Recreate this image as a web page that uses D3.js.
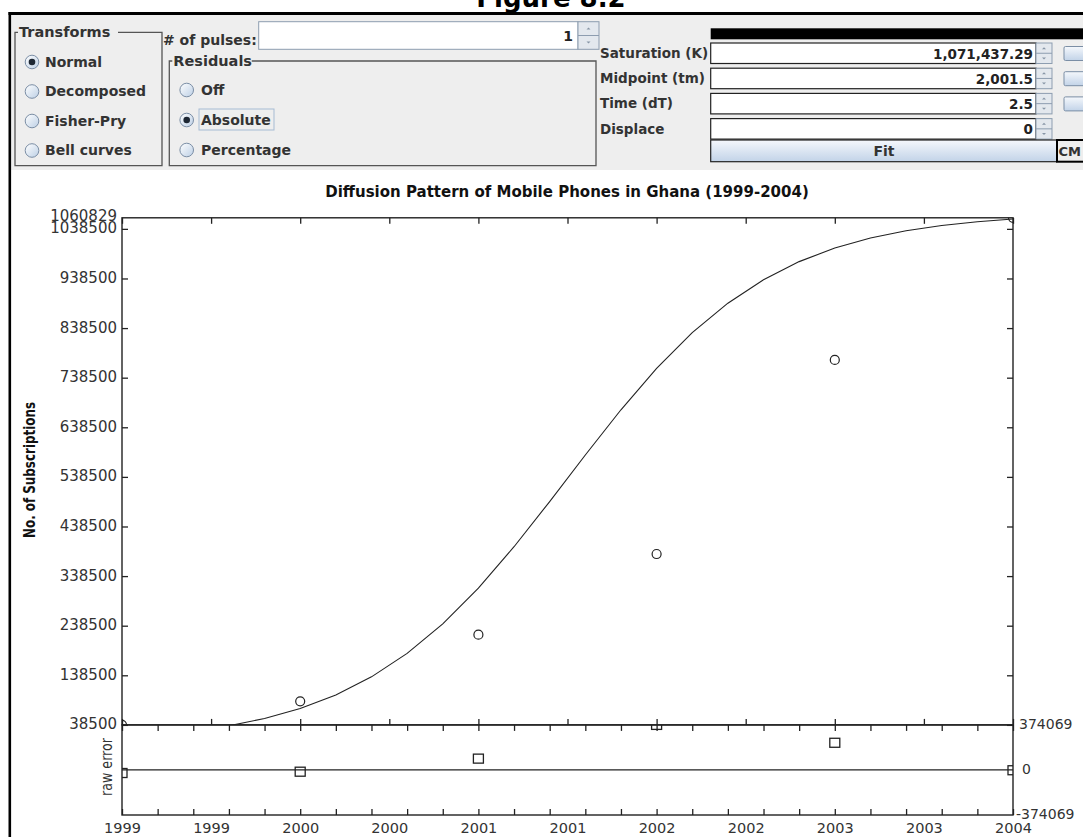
<!DOCTYPE html>
<html>
<head>
<meta charset="utf-8">
<script src="https://cdn.jsdelivr.net/npm/d3@7"></script>
<style>
body{margin:0;background:#fff;}
svg{display:block;}
.ui{font-family:"DejaVu Sans",sans-serif;font-weight:bold;font-size:14px;fill:#333;}
.tick text{font-family:"DejaVu Sans",sans-serif;font-size:15px;fill:#333;}
</style>
</head>
<body>
<script>
// observed data
const years = [1999, 2000, 2001, 2002, 2003, 2004];
const subscriptions = [38500, 86100, 220400, 383000, 774200, 1060829];
const rawErrors = [-25400, -14500, 94000, 374069, 225700, -2500];

// fitted curve
const curveYears = [1999, 1999.2, 1999.4, 1999.6, 1999.8, 2000, 2000.2, 2000.4, 2000.6, 2000.8, 2001, 2001.2, 2001.4, 2001.6, 2001.8, 2002, 2002.2, 2002.4, 2002.6, 2002.8, 2003, 2003.2, 2003.4, 2003.6, 2003.8, 2004];
const curveValues = [13000, 18500, 26000, 36700, 51400, 71600, 99000, 135400, 182700, 242300, 314400, 397700, 488800, 582700, 673800, 757100, 829200, 888700, 936100, 972500, 999900, 1020000, 1034800, 1045400, 1053000, 1058400];

// ticks
const yTicks = [38500, 138500, 238500, 338500, 438500, 538500, 638500, 738500, 838500, 938500, 1038500];
const yTop = 1060829;
const xMajor = [1999, 1999.5, 2000, 2000.5, 2001, 2001.5, 2002, 2002.5, 2003, 2003.5, 2004];
const xLabels = ["1999", "1999", "2000", "2000", "2001", "2001", "2002", "2002", "2003", "2003", "2004"];
const xMinor = [1999, 1999.2, 1999.4, 1999.6, 1999.8, 2000, 2000.2, 2000.4, 2000.6, 2000.8, 2001, 2001.2, 2001.4, 2001.6, 2001.8, 2002, 2002.2, 2002.4, 2002.6, 2002.8, 2003, 2003.2, 2003.4, 2003.6, 2003.8, 2004];
const resMax = 374069;

// control panel
const transformOptions = ["Normal", "Decomposed", "Fisher-Pry", "Bell curves"];
const residualOptions = ["Off", "Absolute", "Percentage"];
const paramLabels = ["Saturation (K)", "Midpoint (tm)", "Time (dT)", "Displace"];
const paramValues = ["1,071,437.29", "2,001.5", "2.5", "0"];
const pulses = "1";

const width = 1083;
const height = 837;
const L = 122, R = 1013, T = 217.8, M = 724.9, B = 815;

const svg = d3.select('body')
    .append('svg')
    .attr('width', width)
    .attr('height', height)

const defs = svg.append('defs')
const g1 = defs.append('linearGradient').attr('id', 'btnGrad').attr('x1', 0).attr('y1', 0).attr('x2', 0).attr('y2', 1)
g1.append('stop').attr('offset', '0%').attr('stop-color', '#f5f8fc')
g1.append('stop').attr('offset', '100%').attr('stop-color', '#c2d3e8')
const g2 = defs.append('linearGradient').attr('id', 'radioGrad').attr('x1', 0).attr('y1', 0).attr('x2', 1).attr('y2', 1)
g2.append('stop').attr('offset', '0%').attr('stop-color', '#ffffff')
g2.append('stop').attr('offset', '100%').attr('stop-color', '#bccfe5')
defs.append('clipPath').attr('id', 'clipTop').append('rect')
    .attr('x', L).attr('y', T).attr('width', R - L).attr('height', M - T)
defs.append('clipPath').attr('id', 'clipRes').append('rect')
    .attr('x', L).attr('y', M).attr('width', R - L).attr('height', B - M)

svg.append('rect').attr('width', width).attr('height', height).attr('fill', '#fff')

// figure caption, cut at the top
svg.append('text')
    .attr('x', 551).attr('y', 7)
    .attr('text-anchor', 'middle')
    .attr('font-family', 'DejaVu Sans, sans-serif')
    .attr('font-weight', 'bold')
    .attr('font-size', 26)
    .text('Figure 8.2')

// ---------- control panel ----------
svg.append('rect').attr('x', 11).attr('y', 15).attr('width', width - 11).attr('height', 155).attr('fill', '#eeeeee')
svg.append('rect').attr('x', 8.5).attr('y', 12).attr('width', width - 8.5).attr('height', 3).attr('fill', '#000')
svg.append('rect').attr('x', 8.5).attr('y', 12).attr('width', 2.6).attr('height', height - 12).attr('fill', '#000')

function groupBox(x0, y0, x1, y1, title, gapEnd) {
    svg.append('path')
        .attr('d', `M${x0 + 3},${y0}H${x0}V${y1}H${x1}V${y0}H${gapEnd}`)
        .attr('fill', 'none').attr('stroke', '#555').attr('stroke-width', 1.3)
    svg.append('text').attr('class', 'ui').attr('x', x0 + 4).attr('y', y0 + 5).style('font-size', '14.5px').text(title)
}
groupBox(15, 32.3, 162, 165.7, 'Transforms', 118)
groupBox(169.3, 61, 596, 165.7, 'Residuals', 251.7)

function radio(cx, cy, on) {
    svg.append('circle').attr('cx', cx).attr('cy', cy).attr('r', 6.8)
        .attr('fill', 'url(#radioGrad)').attr('stroke', '#7b8ea5').attr('stroke-width', 1)
    if (on) {
        svg.append('circle').attr('cx', cx).attr('cy', cy).attr('r', 3.3).attr('fill', '#1d2733')
    }
}

svg.selectAll('.tr')
    .data(transformOptions)
    .enter()
    .append('text')
    .attr('class', 'ui tr')
    .attr('x', 45)
    .attr('y', (d, i) => 66.5 + i * 29.5)
    .text(d => d)
transformOptions.forEach((d, i) => radio(32, 62 + i * 29.5, i == 0))

svg.append('rect').attr('x', 199).attr('y', 109).attr('width', 75).attr('height', 21)
    .attr('fill', 'none').attr('stroke', '#a6bbd3')
svg.selectAll('.rs')
    .data(residualOptions)
    .enter()
    .append('text')
    .attr('class', 'ui rs')
    .attr('x', 201)
    .attr('y', (d, i) => 95 + i * 30)
    .text(d => d)
residualOptions.forEach((d, i) => radio(186.7, 90 + i * 30, i == 1))

function spinner(x0, y0, w, h) {
    svg.append('rect').attr('x', x0).attr('y', y0).attr('width', w).attr('height', h)
        .attr('fill', '#e3e8ee').attr('stroke', '#8d9db0')
    svg.append('line').attr('x1', x0).attr('x2', x0 + w).attr('y1', y0 + h / 2).attr('y2', y0 + h / 2).attr('stroke', '#8d9db0')
    const cx = x0 + w / 2
    svg.append('path').attr('d', `M${cx - 2},${y0 + h / 4 + 1}L${cx + 2},${y0 + h / 4 + 1}L${cx},${y0 + h / 4 - 1}Z`).attr('fill', '#8795a6')
    svg.append('path').attr('d', `M${cx - 2},${y0 + 3 * h / 4 - 1}L${cx + 2},${y0 + 3 * h / 4 - 1}L${cx},${y0 + 3 * h / 4 + 1}Z`).attr('fill', '#8795a6')
}

svg.append('text').attr('class', 'ui').attr('x', 163).attr('y', 44.5).text('# of pulses:')
svg.append('rect').attr('x', 258.7).attr('y', 21.7).attr('width', 319.3).attr('height', 27.6)
    .attr('fill', '#fff').attr('stroke', '#8d9db0')
svg.append('text').attr('class', 'ui').attr('x', 573).attr('y', 41).attr('text-anchor', 'end').style('fill', '#222').text(pulses)
spinner(578, 21.7, 21, 27.6)

svg.append('rect').attr('x', 710.7).attr('y', 28.3).attr('width', width - 710.7).attr('height', 11).attr('fill', '#000')

paramLabels.forEach((d, i) => {
    const top = 43 + i * 25.2
    svg.append('text').attr('class', 'ui').attr('x', 600).attr('y', top + 15).style('font-size', '13.5px').text(d)
    svg.append('rect').attr('x', 710.7).attr('y', top).attr('width', 325.3).attr('height', 20.5)
        .attr('fill', '#fff').attr('stroke', '#222').attr('stroke-width', 1.2)
    svg.append('text').attr('class', 'ui').attr('x', 1033).attr('y', top + 15.5)
        .attr('text-anchor', 'end').style('fill', '#222').style('font-size', '13.5px').text(paramValues[i])
    spinner(1036, top, 16, 20.5)
    if (i < 3) {
        svg.append('rect').attr('x', 1064).attr('y', top + 3.5).attr('width', 24).attr('height', 14).attr('rx', 1.5)
            .attr('fill', 'url(#btnGrad)').attr('stroke', '#7b8ea5')
    }
})

svg.append('rect').attr('x', 710.7).attr('y', 140).attr('width', 346).attr('height', 21.7)
    .attr('fill', 'url(#btnGrad)').attr('stroke', '#222').attr('stroke-width', 1.2)
svg.append('text').attr('class', 'ui').attr('x', 884).attr('y', 156).attr('text-anchor', 'middle').text('Fit')
svg.append('rect').attr('x', 1057).attr('y', 140).attr('width', 30).attr('height', 21.7)
    .attr('fill', '#eeeeee').attr('stroke', '#000').attr('stroke-width', 2)
svg.append('text').attr('class', 'ui').attr('x', 1058.5).attr('y', 156).style('font-size', '13px').text('CM')

// ---------- chart ----------
const x = d3.scaleLinear().domain([1999, 2004]).range([L, R]);
const y = d3.scaleLinear().domain([38500, yTop]).range([M, T]);
const r = d3.scaleLinear().domain([-resMax, resMax]).range([B, M]);

svg.append('text')
    .attr('x', 567).attr('y', 197)
    .attr('text-anchor', 'middle')
    .attr('font-family', 'DejaVu Sans, sans-serif')
    .attr('font-weight', 'bold')
    .attr('font-size', 15)
    .attr('fill', '#111')
    .text('Diffusion Pattern of Mobile Phones in Ghana (1999-2004)')

function axisStyle(g) {
    g.select('.domain').remove()
    g.selectAll('.tick line').attr('stroke', '#222').attr('stroke-width', 1.3)
}

svg.append('g').attr('transform', `translate(${L},0)`)
    .call(d3.axisLeft(y).tickValues(yTicks).tickSize(-6).tickPadding(5).tickFormat(d => String(d)))
    .call(axisStyle)
    .selectAll('text').attr('dy', '0.27em')
svg.append('text')
    .attr('x', L - 5).attr('y', T + 3)
    .attr('text-anchor', 'end')
    .attr('font-family', 'DejaVu Sans, sans-serif').attr('font-size', 15).attr('fill', '#333')
    .text(String(yTop))

svg.append('g').attr('transform', `translate(${R},0)`)
    .call(d3.axisRight(y).tickValues(yTicks).tickSize(-6).tickFormat(''))
    .call(axisStyle)
svg.append('g').attr('transform', `translate(0,${T})`)
    .call(d3.axisTop(x).tickValues(xMajor).tickSize(-6).tickFormat(''))
    .call(axisStyle)
svg.append('g').attr('transform', `translate(0,${M})`)
    .call(d3.axisBottom(x).tickValues(xMajor).tickSize(-6).tickFormat(''))
    .call(axisStyle)
svg.append('g').attr('transform', `translate(0,${M})`)
    .call(d3.axisTop(x).tickValues(xMinor).tickSize(-6).tickFormat(''))
    .call(axisStyle)
svg.append('g').attr('transform', `translate(0,${B})`)
    .call(d3.axisBottom(x).tickValues(xMinor).tickSize(-6).tickFormat(''))
    .call(axisStyle)
svg.append('g').attr('transform', `translate(0,${B})`)
    .call(d3.axisBottom(x).tickValues(xMajor).tickSize(0).tickPadding(8).tickFormat((d, i) => xLabels[i]))
    .call(axisStyle)
    .selectAll('text').style('font-size', '14.5px')
svg.append('g').attr('transform', `translate(${R},0)`)
    .call(d3.axisRight(r).tickValues([-resMax, 0, resMax]).tickSize(0).tickPadding(5).tickFormat(d => String(d)))
    .call(axisStyle)
    .selectAll('text')
    .attr('dy', '0.25em')
    .style('font-size', '14px')
    .attr('x', d => d < 0 ? 3 : (d == 0 ? 9 : 6))

// frames
svg.append('rect').attr('x', L).attr('y', T).attr('width', R - L).attr('height', M - T)
    .attr('fill', 'none').attr('stroke', '#222').attr('stroke-width', 1.4)
svg.append('rect').attr('x', L).attr('y', M).attr('width', R - L).attr('height', B - M)
    .attr('fill', 'none').attr('stroke', '#222').attr('stroke-width', 1.4)
svg.append('line').attr('x1', L).attr('x2', R).attr('y1', r(0)).attr('y2', r(0))
    .attr('stroke', '#222').attr('stroke-width', 1.3)

// curve and points
const curve = curveYears.map((d, i) => [d, curveValues[i]]);
svg.append('path')
    .datum(curve)
    .attr('clip-path', 'url(#clipTop)')
    .attr('fill', 'none')
    .attr('stroke', '#222')
    .attr('stroke-width', 1.1)
    .attr('d', d3.line().x(d => x(d[0])).y(d => y(d[1])))

svg.append('g').attr('clip-path', 'url(#clipTop)')
    .selectAll('circle')
    .data(years)
    .enter()
    .append('circle')
    .attr('cx', d => x(d))
    .attr('cy', (d, i) => y(subscriptions[i]))
    .attr('r', 4.5)
    .attr('fill', 'none')
    .attr('stroke', '#222')
    .attr('stroke-width', 1.2)

svg.append('g').attr('clip-path', 'url(#clipRes)')
    .selectAll('rect')
    .data(years)
    .enter()
    .append('rect')
    .attr('x', d => x(d) - 5)
    .attr('y', (d, i) => r(rawErrors[i]) - 4.5)
    .attr('width', 10)
    .attr('height', 9)
    .attr('fill', 'none')
    .attr('stroke', '#222')
    .attr('stroke-width', 1.3)

// axis titles
svg.append('text')
    .attr('transform', 'translate(34.5,470) rotate(-90)')
    .attr('text-anchor', 'middle')
    .attr('font-family', '"DejaVu Sans Condensed", "Liberation Sans Narrow", sans-serif')
    .attr('font-stretch', 'condensed')
    .attr('font-weight', 'bold')
    .attr('font-size', 15)
    .attr('textLength', 136)
    .attr('lengthAdjust', 'spacingAndGlyphs')
    .attr('fill', '#111')
    .text('No. of Subscriptions')

svg.append('text')
    .attr('transform', 'translate(112,767) rotate(-90)')
    .attr('text-anchor', 'middle')
    .attr('font-family', 'DejaVu Sans, sans-serif')
    .attr('font-size', 15)
    .attr('textLength', 58)
    .attr('lengthAdjust', 'spacingAndGlyphs')
    .attr('fill', '#333')
    .text('raw error')
</script>
</body>
</html>
